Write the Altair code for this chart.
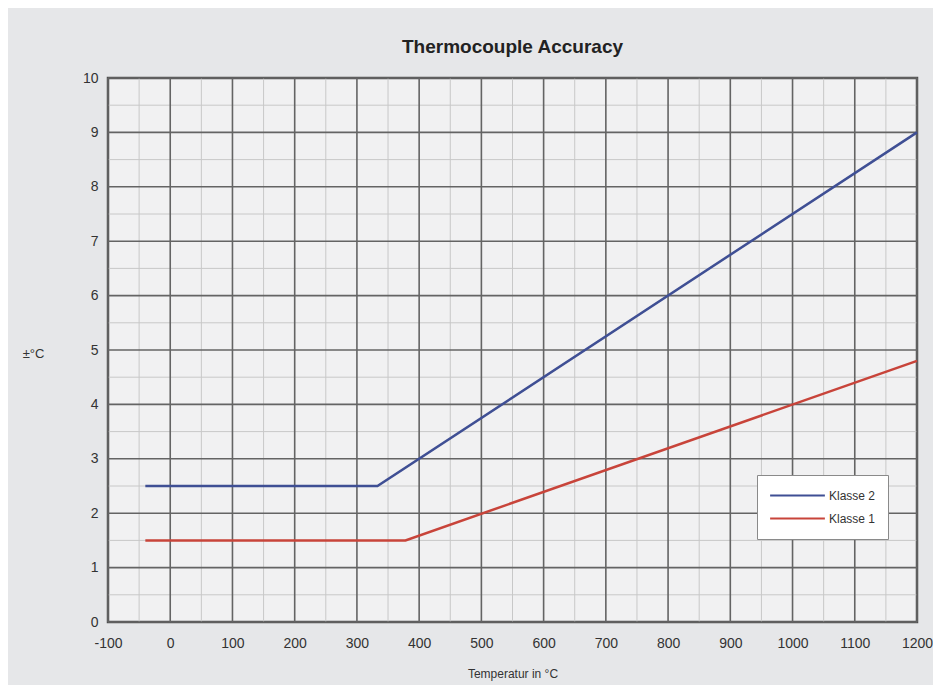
import altair as alt
import pandas as pd

# Data
series_names = ["Klasse 2", "Klasse 1"]
temps_k2 = [-40, 333, 1200]
vals_k2 = [2.5, 2.5, 9.0]
temps_k1 = [-40, 378, 1200]
vals_k1 = [1.5, 1.5, 4.8]

x_major = list(range(-100, 1201, 100))
y_major = list(range(0, 11))
x_minor = list(range(-50, 1200, 100))
y_minor = [i + 0.5 for i in range(0, 10)]

df = pd.DataFrame(
    [{"T": t, "v": v, "series": "Klasse 2", "ord": i} for i, (t, v) in enumerate(zip(temps_k2, vals_k2))]
    + [{"T": t, "v": v, "series": "Klasse 1", "ord": i} for i, (t, v) in enumerate(zip(temps_k1, vals_k1))]
)

xscale = alt.Scale(domain=[-100, 1200], nice=False, zero=False)
yscale = alt.Scale(domain=[0, 10], nice=False)

minor_x = alt.Chart(pd.DataFrame({"T": x_minor})).mark_rule(color="#c8c8c8", strokeWidth=1).encode(
    x=alt.X("T:Q", scale=xscale)
)
minor_y = alt.Chart(pd.DataFrame({"v": y_minor})).mark_rule(color="#c8c8c8", strokeWidth=1).encode(
    y=alt.Y("v:Q", scale=yscale)
)
major_x = alt.Chart(pd.DataFrame({"T": x_major})).mark_rule(color="#646464", strokeWidth=1.6).encode(
    x=alt.X("T:Q", scale=xscale)
)
major_y = alt.Chart(pd.DataFrame({"v": y_major})).mark_rule(color="#646464", strokeWidth=1.6).encode(
    y=alt.Y("v:Q", scale=yscale)
)

lines = alt.Chart(df).mark_line(strokeWidth=2.5).encode(
    x=alt.X(
        "T:Q",
        scale=xscale,
        axis=alt.Axis(
            values=x_major,
            labelExpr="'' + datum.value",
            title="Temperatur in °C",
            grid=False,
            ticks=False,
            domain=False,
            labelPadding=14,
            labelFontSize=14,
            labelColor="#333333",
            labelFont="Liberation Sans",
            titleFont="Liberation Sans",
            titleFontSize=12,
            titleFontWeight="normal",
            titleColor="#333333",
            titlePadding=18,
            labelFlush=False,
        ),
    ),
    y=alt.Y(
        "v:Q",
        scale=yscale,
        axis=alt.Axis(
            values=y_major,
            labelExpr="'' + datum.value",
            title="±°C",
            grid=False,
            ticks=False,
            domain=False,
            labelPadding=10,
            labelFontSize=14,
            labelColor="#333333",
            labelFont="Liberation Sans",
            titleFont="Liberation Sans",
            titleFontSize=13,
            titleFontWeight="normal",
            titleColor="#333333",
            titleAngle=0,
            titleX=-75,
            titleY=275,
            titleAlign="center",
            titleBaseline="middle",
            labelFlush=False,
        ),
    ),
    color=alt.Color(
        "series:N",
        scale=alt.Scale(domain=series_names, range=["#3f4f94", "#c8443a"]),
        legend=alt.Legend(
            title=None,
            orient="none",
            legendX=649,
            legendY=397,
            symbolType="stroke",
            symbolSize=3000,
            symbolStrokeWidth=2,
            clipHeight=17,
            labelFontSize=12,
            labelColor="#333333",
            labelFont="Liberation Sans",
            fillColor="#ffffff",
            strokeColor="#8a8a8a",
            padding=12,
            rowPadding=6,
            labelOffset=3,
        ),
    ),
    order="ord:Q",
    detail="series:N",
)

chart = (
    alt.layer(minor_x, minor_y, major_x, major_y, lines)
    .properties(
        width=809,
        height=544,
        title=alt.TitleParams(
            "Thermocouple Accuracy",
            font="Liberation Sans",
            fontSize=19,
            fontWeight="bold",
            color="#222222",
            anchor="middle",
            offset=14,
        ),
        autosize=alt.AutoSizeParams(type="none"),
        padding={"left": 100, "top": 70, "right": 16, "bottom": 63},
        background="#e6e7e9",
    )
    .configure_view(fill="#f1f1f2", stroke="#505050", strokeWidth=2.5)
)

chart.save("out.html", embed_options={"renderer": "svg", "actions": False})
